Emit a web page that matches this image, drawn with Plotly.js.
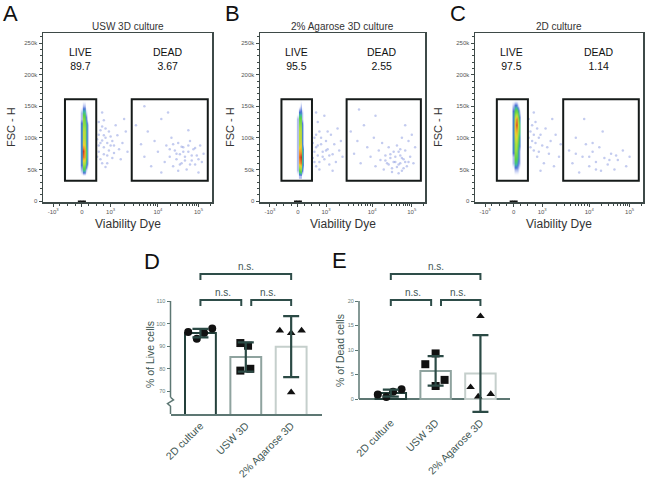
<!DOCTYPE html>
<html><head><meta charset="utf-8">
<script src="https://cdn.plot.ly/plotly-3.0.1.min.js"></script>
<style>html,body{margin:0;padding:0;background:#fff}#chart{width:647px;height:487px}</style>
</head><body><div id="chart"></div>
<script>
// ================= DATA =================
// Flow cytometry panels (A, B, C)
const panelLetters = ['A', 'B', 'C', 'D', 'E'];
const flowTitles = ['USW 3D culture', '2% Agarose 3D culture', '2D culture'];
const livePct = ['89.7', '95.5', '97.5'];
const deadPct = ['3.67', '2.55', '1.14'];
const xTickVals = [6, 23, 40, 68, 92];            // display (biexponential) units
const xTickText = ['-10<sup>3</sup>', '0', '10<sup>3</sup>', '10<sup>4</sup>', '10<sup>5</sup>'];
const yTickVals = [0, 50, 100, 150, 200, 250];    // FSC-H in thousands
const yTickText = ['0', '50k', '100k', '150k', '200k', '250k'];
const liveGateX = [13, 31.5];
const deadGateX = [52.5, 97.5];
const gateY = [32, 161];

// density of the live population (rows = FSC-H, cols = viability dye)
const densX = [22.8, 23.7, 24.6, 25.5, 26.4];
const densY = [40, 50, 60, 70, 80, 90, 100, 110, 120, 130, 140, 150, 160];
const densA = [[0,0,0,0,0],[1,3,3,1,0],[2,6,6,3,1],[2,9,8,4,1],[2,10,8,4,1],[2,7,7,3,1],[2,6,6,3,1],[2,6,6,3,1],[2,5,5,3,1],[1,5,4,2,0],[1,3,3,1,0],[0,1,1,0,0],[0,0,0,0,0]];
const densB = [[0,1,1,0,0],[1,4,5,2,0],[1,8,9,3,1],[1,9,10,3,1],[1,8,8,3,1],[1,6,7,2,0],[1,6,6,2,0],[1,6,6,2,0],[1,5,5,2,0],[1,4,4,1,0],[0,2,2,1,0],[0,0,1,0,0],[0,0,0,0,0]];
const densC = [[0,0,0,0,0],[0,1,1,1,0],[1,3,3,2,1],[1,4,4,3,1],[2,5,5,3,1],[2,5,6,4,2],[2,6,7,5,2],[2,7,8,6,3],[2,7,10,7,3],[2,6,9,6,2],[2,4,5,4,1],[1,2,2,1,0],[0,0,0,0,0]];

// sparse events [viability display units, FSC-H k]
const cloudA = [[33,105],[34,92],[35,118],[33,78],[36,85],[37,100],[38,72],[34,66],[39,110],[40,88],[36,128],[41,95],[42,76],[38,60],[44,104],[45,82],[43,120],[47,92],[46,66],[49,110],[35,140],[50,78],[48,130],[37,54],
  [32,98],[33,88],[34,112],[32,70],[35,96],[36,74],[37,115],[38,92],[39,80],[40,102],[41,68],[42,88],[33,125],[35,60],[36,104],
  [55,120],[58,90],[60,70],[62,110],[64,55],[66,95],[68,78],[70,130],[72,62],[73,88],[75,70],[76,100],[77,55],[78,80],[79,66],[80,92],[81,74],[82,60],[83,85],[84,70],[85,50],[86,78],[87,95],[88,64],[89,82],[90,58],[91,72],[93,88],[94,62],[95,75],[86,112],[74,140],[60,150],[92,45],[80,48],[70,45],
  [79,75],[82,86],[84,64],[86,88],[88,72],[90,84],[77,90],[81,58],[83,78],[87,58],[92,66],[75,82]];
const cloudB = [[33,100],[34,85],[35,72],[36,110],[33,62],[37,90],[38,78],[39,66],[40,95],[35,125],[41,82],[42,58],[43,105],[44,74],[45,90],[46,62],[47,115],[48,80],[50,70],[36,50],[39,135],[44,48],[49,95],[34,140],
  [32,92],[33,78],[34,105],[32,68],[35,88],[36,62],[37,100],[38,70],[40,80],[41,110],[42,72],[34,55],
  [55,110],[57,75],[59,95],[61,60],[63,120],[65,85],[67,70],[69,100],[70,55],[72,80],[73,65],[74,92],[75,50],[76,72],[77,60],[78,85],[79,68],[80,52],[81,78],[82,62],[83,88],[84,58],[85,72],[86,100],[86,48],[87,66],[88,80],[89,55],[90,95],[91,70],[92,105],[93,60],[94,85],[88,120],[70,135],[60,145],[84,44],
  [79,74],[81,62],[82,70],[83,54],[84,78],[85,60],[86,68],[87,52],[88,62],[80,46],[78,58],[85,82],[90,62],[76,64]];
const cloudC = [[33,110],[34,95],[35,80],[36,125],[37,70],[38,100],[40,88],[41,60],[42,115],[44,75],[45,95],[47,55],[48,105],[50,70],[35,140],[39,48],[46,130],[51,90],
  [32,100],[33,85],[34,120],[35,105],[36,92],[37,115],[38,78],[32,130],[39,105],[43,85],
  [56,80],[58,60],[60,100],[62,45],[64,70],[66,90],[68,55],[70,78],[72,62],[74,85],[75,48],[77,68],[79,58],[81,75],[83,50],[85,65],[88,80],[90,55],[65,130],[76,110],[92,70],
  [60,75],[68,70],[72,50],[80,65],[84,72],[70,92]];
const axisPile = [21.5, 23, 24.5];   // events piled on FSC-H = 0

// Bar panels (D, E)
const categories = ['2D culture', 'USW 3D', '2% Agarose 3D'];
const liveVals = [[96.3, 93.3, 95.8, 97.8], [91.4, 90.2, 79.2, 80.0], [96.9, 95.8, 96.9, 69.6]];
const liveJitter = [[-0.27, -0.08, 0.08, 0.26], [-0.12, 0.05, -0.12, 0.1], [-0.25, 0, 0.23, 0]];
const deadVals = [[0.9, 0.4, 1.5, 2.0], [7.1, 9.3, 2.65, 3.9], [2.4, 0.5, 1.0, 16.9]];
const deadJitter = [[-0.29, -0.1, 0.05, 0.24], [-0.23, 0, 0, 0.2], [-0.22, -0.05, 0.23, 0]];
const sigPairs = [[0, 2], [0, 1], [1, 2]];
const sigLabels = ['n.s.', 'n.s.', 'n.s.'];
const sigLevelsLive = [121.9, 110.4, 110.4];
const sigLevelsDead = [25.5, 20.2, 20.2];

// ================= DRAWING =================
const W = 647, H = 487;
const FONT = 'Liberation Sans, Arial, Helvetica, sans-serif';
const px = x => x / W, py = y => 1 - y / H;
const mean = a => a.reduce((s, v) => s + v, 0) / a.length;
const sd = a => { const m = mean(a); return Math.sqrt(a.reduce((s, v) => s + (v - m) * (v - m), 0) / (a.length - 1)); };

const traces = [];
const layout = {
  width: W, height: H, margin: {l: 0, r: 0, t: 0, b: 0},
  paper_bgcolor: '#fff', plot_bgcolor: 'rgba(0,0,0,0)', showlegend: false,
  font: {family: FONT, color: '#333'}, shapes: [], annotations: []
};
const paperText = (x, y, text, font, extra) => Object.assign({
  xref: 'paper', yref: 'paper', x: px(x), y: py(y), xanchor: 'center', yanchor: 'middle',
  text: text, showarrow: false, font: font
}, extra || {});

// minor ticks for the biexponential axis
const minorX = [];
[10, 14.5, 19, 27, 31.5, 36].forEach(v => minorX.push(v));
for (let k = 2; k <= 9; k++) { minorX.push(40 + Math.log10(k) * 28); minorX.push(68 + Math.log10(k) * 24); }
minorX.push(92 + Math.log10(2) * 24);

const densScale = [[0, 'rgba(255,255,255,0)'], [0.08, 'rgba(130,150,228,0.45)'], [0.17, '#4a6fd8'],
  [0.26, '#3cb8a8'], [0.36, '#55d04a'], [0.55, '#a8e040'], [0.72, '#f0d030'], [0.86, '#f08a28'], [1, '#c8321e']];

const flowFrames = [[43, 212], [260, 425], [475, 643]];
const flowTop = 33, flowBottom = 202;
const dens = [densA, densB, densC];
const clouds = [cloudA, cloudB, cloudC];
const yTitleX = [11, 230, 438];
const letterX = [10, 232, 458];
const frameCol = '#3e4a48';

flowFrames.forEach((f, i) => {
  const s = i === 0 ? '' : String(i + 1);
  layout['xaxis' + s] = {
    domain: [px(f[0]), px(f[1])], anchor: 'y' + s, range: [0, 100],
    tickmode: 'array', tickvals: xTickVals, ticktext: xTickText,
    ticks: 'outside', ticklen: 3, tickcolor: frameCol, tickwidth: 1,
    tickfont: {size: 6, color: '#555'},
    minor: {tickmode: 'array', tickvals: minorX, ticks: 'outside', ticklen: 2, tickcolor: frameCol},
    showline: true, mirror: true, linecolor: frameCol, linewidth: 1.5,
    showgrid: false, zeroline: false, fixedrange: true
  };
  layout['yaxis' + s] = {
    domain: [py(flowBottom), py(flowTop)], anchor: 'x' + s, range: [-1.5, 266],
    tickmode: 'array', tickvals: yTickVals, ticktext: yTickText,
    ticks: 'outside', ticklen: 3, tickcolor: frameCol, tickwidth: 1,
    tickfont: {size: 6, color: '#555'},
    minor: {dtick: 10, tick0: 0, ticks: 'outside', ticklen: 1.5, tickcolor: frameCol},
    showline: true, mirror: true, linecolor: frameCol, linewidth: 1.5,
    showgrid: false, zeroline: false, fixedrange: true
  };
  traces.push({
    type: 'scatter', mode: 'markers', xaxis: 'x' + s, yaxis: 'y' + s,
    x: clouds[i].map(p => p[0]), y: clouds[i].map(p => p[1]),
    marker: {size: 2.5, color: 'rgba(105,125,215,0.4)'}, hoverinfo: 'skip'
  });
  traces.push({
    type: 'heatmap', x: densX, y: densY, z: dens[i], xaxis: 'x' + s, yaxis: 'y' + s,
    zsmooth: 'best', colorscale: densScale, zmin: 0, zmax: 10, showscale: false, hoverinfo: 'skip'
  });
  traces.push({
    type: 'scatter', mode: 'markers', xaxis: 'x' + s, yaxis: 'y' + s, cliponaxis: false,
    x: axisPile, y: axisPile.map(() => -1.5),
    marker: {size: 3, symbol: 'square', color: '#111'}, hoverinfo: 'skip'
  });
  [liveGateX, deadGateX].forEach(g => layout.shapes.push({
    type: 'rect', xref: 'x' + s, yref: 'y' + s, x0: g[0], x1: g[1], y0: gateY[0], y1: gateY[1],
    line: {color: '#151a19', width: 2}
  }));
  const labY = 225;
  layout.annotations.push({xref: 'x' + s, yref: 'y' + s, x: 22, y: labY, xanchor: 'center', yanchor: 'middle',
    text: 'LIVE<br>' + livePct[i], showarrow: false, font: {size: 10.5, color: '#111'}, align: 'center'});
  layout.annotations.push({xref: 'x' + s, yref: 'y' + s, x: 74, y: labY, xanchor: 'center', yanchor: 'middle',
    text: 'DEAD<br>' + deadPct[i], showarrow: false, font: {size: 10.5, color: '#111'}, align: 'center'});
  const cx = (f[0] + f[1]) / 2;
  layout.annotations.push(paperText(cx, 26, flowTitles[i], {size: 10, color: '#333'}));
  layout.annotations.push(paperText(cx, 224, 'Viability Dye', {size: 12, color: '#333'}));
  layout.annotations.push(paperText(yTitleX[i], 127, 'FSC - H', {size: 11, color: '#333'}, {textangle: -90}));
  layout.annotations.push(paperText(letterX[i], 14, panelLetters[i], {size: 22, color: '#111'}));
});

// ---------- bar panels ----------
const barCols = ['#24403b', '#8fa39f', '#c5cfcc'];
const axCol = '#5d7773';
const txtCol = '#3f5854';
const symbols = ['circle', 'square', 'triangle-up'];
const barPanels = [
  {s: '4', x: [170.5, 322], ytop: 301, ybot: 414, xr: [-0.66, 2.68], yr: [60, 110], ticks: [70, 80, 90, 100, 110],
   vals: liveVals, jit: liveJitter, levels: sigLevelsLive, title: '% of Live cells', titleXY: [150, 355], letter: [152, 261], L: 'D'},
  {s: '5', x: [359, 510], ytop: 301, ybot: 413.7, xr: [-0.71, 2.66], yr: [-3, 20], ticks: [0, 5, 10, 15, 20],
   vals: deadVals, jit: deadJitter, levels: sigLevelsDead, title: '% of Dead cells', titleXY: [340, 351], letter: [339, 260], L: 'E'}
];
const sigSpan = [[0, 2], [0, 0.9], [1.12, 2]];

barPanels.forEach((p, pi) => {
  const s = p.s;
  const fx = v => (v - p.xr[0]) / (p.xr[1] - p.xr[0]);
  const fy = v => (v - p.yr[0]) / (p.yr[1] - p.yr[0]);
  const hpx = p.ybot - p.ytop;
  layout['xaxis' + s] = {
    domain: [px(p.x[0]), px(p.x[1])], anchor: 'y' + s, range: p.xr,
    tickmode: 'array', tickvals: [0, 1, 2], ticktext: categories, tickangle: -45,
    ticks: '', tickfont: {size: 10.5, color: txtCol},
    showline: pi === 0, linecolor: axCol, linewidth: 1.5, showgrid: false, zeroline: false, fixedrange: true
  };
  layout['yaxis' + s] = {
    domain: [py(p.ybot), py(p.ytop)], anchor: 'x' + s, range: p.yr,
    tickmode: 'array', tickvals: p.ticks, ticks: 'outside', ticklen: 3, tickcolor: axCol, tickwidth: 1,
    tickfont: {size: 5.5, color: '#6a807c'},
    showline: false, showgrid: false, zeroline: pi === 1, zerolinecolor: axCol, zerolinewidth: 1.5, fixedrange: true
  };
  // vertical axis line
  if (pi === 0) {
    const zz = 3 / (p.x[1] - p.x[0]);
    layout.shapes.push({type: 'line', xref: 'x' + s + ' domain', yref: 'y' + s + ' domain', x0: 0, x1: 0, y0: fy(67.4), y1: 1, line: {color: axCol, width: 1.5}});
    layout.shapes.push({type: 'path', xref: 'x' + s + ' domain', yref: 'y' + s + ' domain',
      path: `M0,${fy(67.4)} L${zz},${fy(66.2)} L${-zz},${fy(64.6)} L0,${fy(63.4)} L0,0`, line: {color: axCol, width: 1.5}});
  } else {
    layout.shapes.push({type: 'line', xref: 'x' + s + ' domain', yref: 'y' + s + ' domain', x0: 0, x1: 0, y0: fy(0), y1: 1, line: {color: axCol, width: 1.5}});
  }
  const means = p.vals.map(mean);
  const sds = p.vals.map(sd);
  traces.push({
    type: 'bar', x: [0, 1, 2], y: means, width: 0.68, xaxis: 'x' + s, yaxis: 'y' + s,
    marker: {color: 'rgba(255,255,255,1)', line: {color: barCols, width: 2}}, hoverinfo: 'skip'
  });
  p.vals.forEach((g, gi) => traces.push({
    type: 'scatter', mode: 'markers', xaxis: 'x' + s, yaxis: 'y' + s, cliponaxis: false,
    x: g.map((v, k) => gi + p.jit[gi][k]), y: g,
    marker: {symbol: symbols[gi], size: gi === 2 ? 7.5 : 8, color: '#111'}, hoverinfo: 'skip'
  }));
  traces.push({
    type: 'scatter', mode: 'markers', xaxis: 'x' + s, yaxis: 'y' + s, cliponaxis: false,
    x: [0, 1, 2], y: means, marker: {size: 1, color: 'rgba(0,0,0,0)'},
    error_y: {type: 'data', array: sds, symmetric: true, color: '#2b4a45', thickness: 2.2, width: 8}, hoverinfo: 'skip'
  });
  // significance brackets
  const drop = 6 / hpx;
  sigPairs.forEach((pr, k) => {
    const a = fx(sigSpan[k][0]), b = fx(sigSpan[k][1]);
    const yl = fy(p.levels[k]);
    layout.shapes.push({type: 'path', xref: 'x' + s + ' domain', yref: 'y' + s + ' domain',
      path: `M${a},${yl - drop} L${a},${yl} L${b},${yl} L${b},${yl - drop}`, line: {color: '#2e4d49', width: 2}});
    layout.annotations.push({xref: 'x' + s + ' domain', yref: 'y' + s + ' domain', x: (fx(pr[0]) + fx(pr[1])) / 2, y: yl,
      xanchor: 'center', yanchor: 'bottom', yshift: 0, text: sigLabels[k], showarrow: false, font: {size: 10, color: txtCol}});
  });
  layout.annotations.push(paperText(p.titleXY[0], p.titleXY[1], p.title, {size: 10.5, color: txtCol}, {textangle: -90}));
  layout.annotations.push(paperText(p.letter[0], p.letter[1], p.L, {size: 22, color: '#111'}));
});

Plotly.newPlot('chart', traces, layout, {staticPlot: true, displayModeBar: false});
</script>
</body></html>
